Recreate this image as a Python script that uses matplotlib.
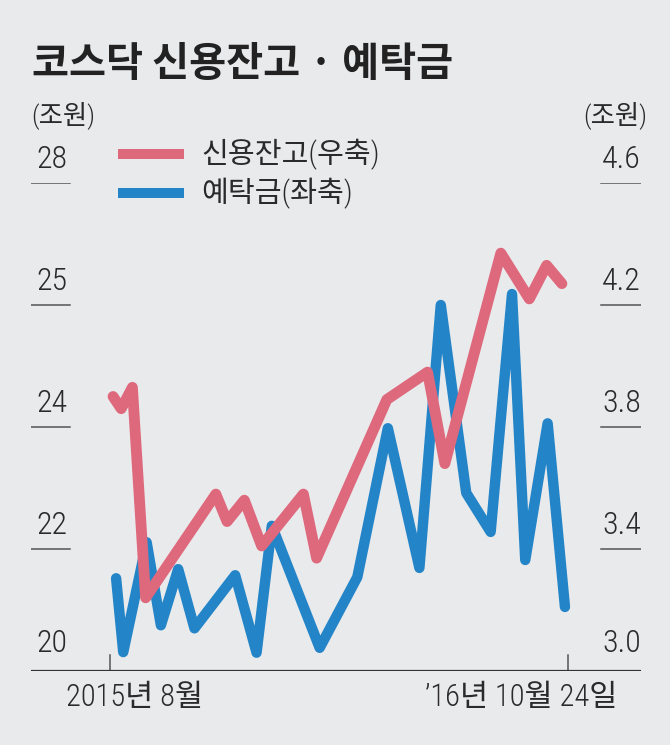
import numpy as np
import pandas as pd
import matplotlib
matplotlib.use("Agg")
import matplotlib.pyplot as plt
import matplotlib.dates as mdates
import logging
logging.getLogger("matplotlib.font_manager").setLevel(logging.ERROR)

# 신용잔고 (우축, 조원)
credit_dates = ["2015-08-04", "2015-08-12", "2015-08-23", "2015-09-05", "2015-11-13",
                "2015-11-24", "2015-12-11", "2015-12-28", "2016-02-07", "2016-02-20",
                "2016-04-29", "2016-06-08", "2016-06-25", "2016-08-19", "2016-09-16",
                "2016-10-03", "2016-10-18"]
credit_vals = [3.90, 3.86, 3.93, 3.24, 3.58, 3.49, 3.56, 3.41, 3.58, 3.37,
               3.89, 3.98, 3.68, 4.37, 4.22, 4.33, 4.27]

# 예탁금 (좌축, 조원)
deposit_dates = ["2015-08-07", "2015-08-14", "2015-09-06", "2015-09-20", "2015-10-07",
                 "2015-10-23", "2015-12-02", "2015-12-23", "2016-01-07", "2016-02-23",
                 "2016-03-31", "2016-04-30", "2016-05-31", "2016-06-21", "2016-07-16",
                 "2016-08-09", "2016-08-30", "2016-09-12", "2016-10-04", "2016-10-21"]
deposit_vals = [21.52, 20.31, 22.11, 20.75, 21.67, 20.70, 21.57, 20.30, 22.38, 20.38,
                21.54, 23.98, 21.69, 25.00, 22.92, 22.28, 25.27, 21.82, 24.03, 21.05]

left_ticks = [20, 22, 24, 25, 28]
right_ticks = [3.0, 3.4, 3.8, 4.2, 4.6]
x_ticks = ["2015-08-01", "2016-10-24"]
x_labels = ["2015년 8월", "\u201916년 10월 24일"]

BG = "#e9eaec"
PINK = "#de687c"
BLUE = "#2385c8"
TXT = "#2a2a2a"
NARROW = ["Roboto Condensed", "Noto Sans CJK KR", "DejaVu Sans"]
KR = ["Noto Sans CJK KR", "DejaVu Sans"]

W, H = 670, 745
fig = plt.figure(figsize=(W / 100, H / 100), dpi=100, facecolor=BG)

# 축 영역 (픽셀 기준)
ax_l, ax_r, ax_b, ax_t = 31, 641, 671, 183
ax = fig.add_axes([ax_l / W, (H - ax_b) / H, (ax_r - ax_l) / W, (ax_b - ax_t) / H])
ax.set_facecolor("none")

# 좌축은 눈금 간격이 고르지 않아서 구간별 선형 스케일
pos = np.arange(len(left_ticks), dtype=float)
fwd = lambda v: np.interp(v, left_ticks, pos)
inv = lambda p: np.interp(p, pos, left_ticks)
ax.set_yscale("function", functions=(fwd, inv))
ax.set_ylim(left_ticks[0], left_ticks[-1])

ax2 = ax.twinx()
ax2.set_ylim(right_ticks[0], right_ticks[-1])

t0, t1 = mdates.date2num(pd.to_datetime(x_ticks))
ppd = (568 - 110) / (t1 - t0)
xlim = (t0 - (110 - ax_l) / ppd, t0 + (ax_r - 110) / ppd)
ax.set_xlim(xlim)
ax2.set_xlim(xlim)

for a in (ax, ax2):
    for s in a.spines.values():
        s.set_visible(False)
    a.set_xticks([])
    a.set_yticks([])

ax.plot(pd.to_datetime(deposit_dates), deposit_vals, color=BLUE, lw=7.5,
        solid_joinstyle="round", solid_capstyle="round", clip_on=False)
ax2.plot(pd.to_datetime(credit_dates), credit_vals, color=PINK, lw=7.8,
         solid_joinstyle="round", solid_capstyle="round", clip_on=False)

# 눈금선, 눈금 라벨
for lv, rv in zip(left_ticks, right_ticks):
    if rv == right_ticks[0]:
        ax2.axhline(rv, color="#333333", lw=1.6)
        dy = 27
    else:
        ax2.axhline(rv, xmin=0, xmax=0.064, color="#555555", lw=1.1)
        ax2.axhline(rv, xmin=0.934, xmax=1, color="#555555", lw=1.1)
        dy = 23
    ax.annotate(str(lv), xy=(0, lv), xycoords=("axes fraction", "data"),
                xytext=(5, dy), textcoords="offset pixels", ha="left", va="center",
                fontsize=23, family=NARROW, fontweight="light", color=TXT)
    ax2.annotate(f"{rv:.1f}", xy=(1, rv), xycoords=("axes fraction", "data"),
                 xytext=(0, dy), textcoords="offset pixels", ha="right", va="center",
                 fontsize=23, family=NARROW, fontweight="light", color=TXT)

# x축 눈금과 라벨
for t, lab, ha, dx in zip(pd.to_datetime(x_ticks), x_labels, ["left", "right"], [-44, 49]):
    ax.axvline(t, ymin=0, ymax=16 / (ax_b - ax_t), color="#555555", lw=1.1)
    ax.annotate(lab, xy=(mdates.date2num(t), 0), xycoords=("data", "axes fraction"),
                xytext=(dx, -26), textcoords="offset pixels", ha=ha, va="center",
                fontsize=22, family=NARROW, fontweight="light", color=TXT,
                annotation_clip=False)

# 제목, 단위
fig.text(32 / W, 1 - 64 / H, "코스닥 신용잔고 · 예탁금", fontsize=29, fontweight=900,
         family=KR, color="#222222", ha="left", va="center")
fig.text(31 / W, 1 - 115 / H, "(조원)", fontsize=19, family=NARROW, fontweight="light",
         color=TXT, ha="left", va="center")
fig.text(647 / W, 1 - 115 / H, "(조원)", fontsize=19, family=NARROW, fontweight="light",
         color=TXT, ha="right", va="center")

# 범례
for y, c, lab in [(154, PINK, "신용잔고(우축)"), (193, BLUE, "예탁금(좌축)")]:
    fig.add_artist(plt.Line2D([118 / W, 184 / W], [1 - y / H, 1 - y / H], color=c, lw=7.2,
                              solid_capstyle="butt"))
    fig.text(201 / W, 1 - y / H, lab, fontsize=21, family=NARROW, fontweight="light",
             color=TXT, ha="left", va="center")

fig.savefig("out.png", dpi=100, facecolor=BG)
